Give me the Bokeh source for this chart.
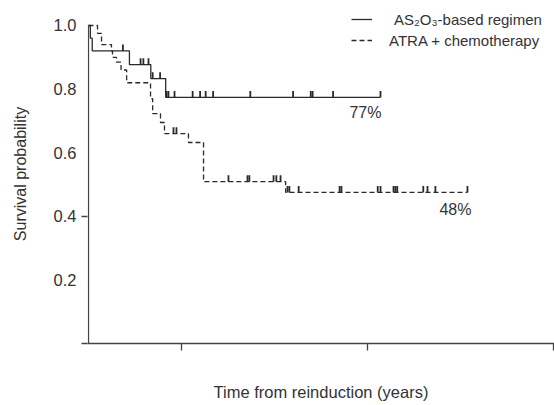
import numpy as np
from bokeh.plotting import figure
from bokeh.models import FixedTicker, Legend, LegendItem, Label, Range1d
from bokeh.embed import file_html
from bokeh.resources import INLINE

# ---------------- data ----------------
series_names = ["AS\u2082O\u2083-based regimen", "ATRA + chemotherapy"]

as_event_years = [0.0, 0.02, 0.04, 0.44, 0.67, 0.83]
as_survival = [1.0, 0.96, 0.92, 0.877, 0.833, 0.774]
as_censor_years = [0.37, 0.56, 0.59, 0.645, 0.69, 0.77, 0.84, 0.86, 0.925,
                   1.12, 1.20, 1.26, 1.34, 1.74, 2.20, 2.39, 2.41, 2.63, 3.14]
as_last_followup = 3.14

atra_event_years = [0.0, 0.097, 0.14, 0.247, 0.258, 0.30, 0.35, 0.41, 0.667,
                    0.69, 0.774, 0.817, 1.075, 1.237, 2.12]
atra_survival = [1.0, 0.975, 0.94, 0.92, 0.90, 0.885, 0.86, 0.82, 0.77,
                 0.723, 0.695, 0.66, 0.632, 0.509, 0.475]
atra_censor_years = [0.914, 0.946, 1.505, 1.71, 1.73, 1.99, 2.02, 2.065, 2.14,
                     2.16, 2.26, 2.70, 2.72, 3.11, 3.14, 3.28, 3.30, 3.32, 3.60,
                     3.645, 3.73, 4.075]
atra_last_followup = 4.075

end_labels = ["77%", "48%"]

y_ticks = [0.2, 0.4, 0.6, 0.8, 1.0]
y_tick_labels = ["0.2", "0.4", "0.6", "0.8", "1.0"]
y_minor_ticks = [0.0, 0.4]
x_ticks = [1, 3, 5]

# ---------------- styling ----------------
FONT = "Liberation Sans"
TXT = "#333333"
AX = "#444444"
LINE = "#2a2a2a"

p = figure(width=554, height=405, output_backend="svg", toolbar_location=None,
           x_range=Range1d(-0.0108, 5.011), y_range=Range1d(0, 1.066),
           min_border_left=87, min_border_right=0, min_border_top=4,
           min_border_bottom=62)
p.outline_line_color = None
p.xgrid.visible = False
p.ygrid.visible = False
p.background_fill_color = "white"
p.border_fill_color = "white"


def km_path(times, surv, last):
    xs = list(times) + [last]
    ys = list(surv) + [surv[-1]]
    return xs, ys


def censor_levels(times, surv, cens):
    idx = np.searchsorted(np.array(times), np.array(cens), side="right") - 1
    return np.array(surv)[idx]


# vertical axis line, drawn only over the labelled span
p.segment(x0=[0], y0=[min(y_minor_ticks)], x1=[0], y1=[max(y_ticks)],
          line_color=AX, line_width=1.3)

ax_x, ax_y = km_path(as_event_years, as_survival, as_last_followup)
r_as = p.step(ax_x, ax_y, mode="after", line_color=LINE, line_width=1.3)
at_x, at_y = km_path(atra_event_years, atra_survival, atra_last_followup)
r_atra = p.step(at_x, at_y, mode="after", line_color=LINE, line_width=1.3,
                line_dash="5 3")

tick_h = 0.02
c_as = censor_levels(as_event_years, as_survival, as_censor_years)
p.segment(x0=as_censor_years, y0=c_as, x1=as_censor_years, y1=c_as + tick_h,
          line_color=LINE, line_width=1.8)
c_at = censor_levels(atra_event_years, atra_survival, atra_censor_years)
p.segment(x0=atra_censor_years, y0=c_at, x1=atra_censor_years, y1=c_at + tick_h,
          line_color=LINE, line_width=1.8)

# end-of-curve percentages
p.add_layout(Label(x=as_last_followup + 0.01, y=as_survival[-1] - 0.0475, text=end_labels[0],
                   text_align="right", text_baseline="alphabetic",
                   text_font=FONT, text_font_size="16px", text_color=TXT))
p.add_layout(Label(x=atra_last_followup + 0.043, y=atra_survival[-1] - 0.0535, text=end_labels[1],
                   text_align="right", text_baseline="alphabetic",
                   text_font=FONT, text_font_size="16px", text_color=TXT))

# axes
ya = p.yaxis[0]
ya.ticker = FixedTicker(ticks=y_ticks, minor_ticks=y_minor_ticks)
ya.major_label_overrides = {t: l for t, l in zip(y_ticks, y_tick_labels)}
ya.major_tick_out = 0
ya.major_tick_in = 0
ya.minor_tick_out = 6
ya.minor_tick_in = 0
ya.minor_tick_line_color = AX
ya.minor_tick_line_width = 1.3
ya.axis_line_color = None
ya.major_label_standoff = 5
ya.major_label_text_font = FONT
ya.major_label_text_font_size = "16.5px"
ya.major_label_text_color = TXT
ya.axis_label = "Survival probability"
ya.axis_label_text_font = FONT
ya.axis_label_text_font_size = "16px"
ya.axis_label_text_font_style = "normal"
ya.axis_label_text_color = TXT
ya.axis_label_standoff = 22

xa = p.xaxis[0]
xa.ticker = FixedTicker(ticks=x_ticks, minor_ticks=[])
xa.major_label_overrides = {t: "" for t in x_ticks}
xa.major_label_text_font_size = "0px"
xa.major_tick_out = 7
xa.major_tick_in = 0
xa.major_tick_line_color = AX
xa.major_tick_line_width = 1.3
xa.axis_line_color = AX
xa.axis_line_width = 1.3
xa.axis_label = "Time from reinduction (years)"
xa.axis_label_text_font = FONT
xa.axis_label_text_font_size = "16.5px"
xa.axis_label_text_font_style = "normal"
xa.axis_label_text_color = TXT
xa.axis_label_standoff = 32

# legends (one per row so each text sits where it does in the reference)
for r, name, vy, standoff in [(r_as, series_names[0], 314, 22),
                              (r_atra, series_names[1], 293, 17)]:
    lg = Legend(items=[LegendItem(label=name, renderers=[r])],
                location=(264, vy), padding=0, margin=0, spacing=0,
                glyph_width=21, glyph_height=20, label_height=20,
                label_standoff=standoff, border_line_color=None,
                background_fill_alpha=0, label_text_font=FONT,
                label_text_font_size="15px", label_text_color=TXT,
                label_text_baseline="middle")
    p.add_layout(lg, "center")

open("out.html", "w").write(file_html(p, INLINE))
